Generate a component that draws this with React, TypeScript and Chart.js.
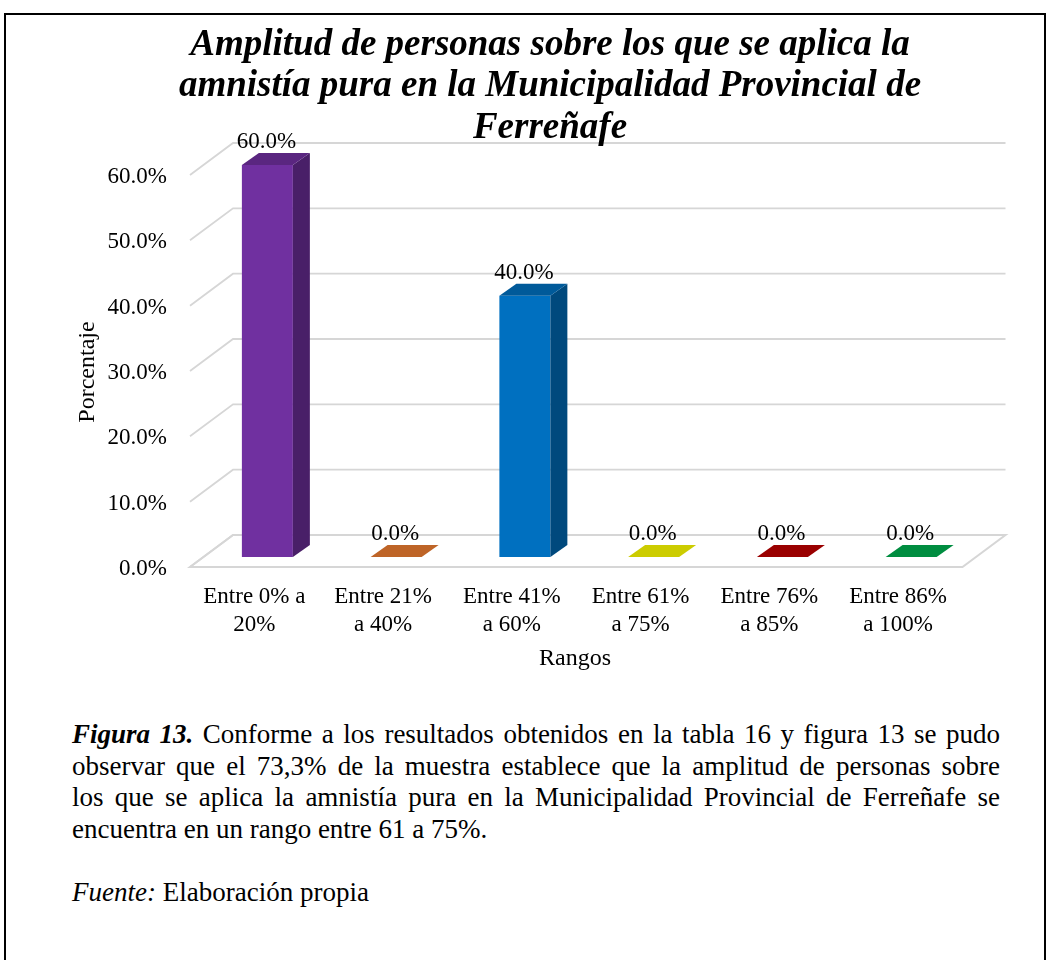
import React, { useEffect, useRef } from 'react';
import { Chart, registerables } from 'chart.js';

Chart.register(...registerables);

const FONT = '"Liberation Serif", "Times New Roman", serif';

const TITLE_LINES = [
  'Amplitud de personas sobre los que se aplica la',
  'amnistía pura en la Municipalidad Provincial de',
  'Ferreñafe',
];
const CATEGORIES = [
  ['Entre 0% a', '20%'],
  ['Entre 21%', 'a 40%'],
  ['Entre 41%', 'a 60%'],
  ['Entre 61%', 'a 75%'],
  ['Entre 76%', 'a 85%'],
  ['Entre 86%', 'a 100%'],
];
const VALUES = [60, 0, 40, 0, 0, 0];
const Y_MIN = 0;
const Y_MAX = 60;
const Y_STEP = 10;
const Y_TITLE = 'Porcentaje';
const X_TITLE = 'Rangos';
const BASE_COLORS = ['#7030A0', '#ED7D31', '#0070C0', '#FFFF00', '#C00000', '#00B050'];

const CAPTION_LINES = [
  'Conforme a los resultados obtenidos en la tabla 16 y figura 13 se pudo',
  'observar que el 73,3% de la muestra establece que la amplitud de personas sobre',
  'los que se aplica la amnistía pura en la Municipalidad Provincial de Ferreñafe se',
  'encuentra en un rango entre 61 a 75%.',
];
const CAPTION_LEAD = 'Figura 13.';
const SOURCE_LEAD = 'Fuente:';
const SOURCE_TEXT = 'Elaboración propia';

const GRID = '#D6D6D6';
// 3D geometry offsets (relative to the bar front plane)
const BAR_DX = 17;
const BAR_DY = 12;
const FRONT_DX = -13;
const FRONT_DY = 10;
const BACK_DX = 30;
const BACK_DY = -22;

function shade(hex: string, f: number) {
  const n = parseInt(hex.slice(1), 16);
  const r = Math.round(((n >> 16) & 255) * f);
  const g = Math.round(((n >> 8) & 255) * f);
  const b = Math.round((n & 255) * f);
  return `rgb(${r},${g},${b})`;
}

const threeD = {
  id: 'threeD',
  beforeDatasetsDraw(chart: any) {
    const { ctx, chartArea, scales } = chart;
    const y = scales.y;
    const l = chartArea.left;
    const r = chartArea.right;
    const y0 = y.getPixelForValue(0);
    ctx.save();
    ctx.strokeStyle = GRID;
    // floor
    ctx.beginPath();
    ctx.moveTo(l + FRONT_DX, y0 + FRONT_DY);
    ctx.lineTo(r + FRONT_DX, y0 + FRONT_DY);
    ctx.lineTo(r + BACK_DX, y0 + BACK_DY);
    ctx.lineTo(l + BACK_DX, y0 + BACK_DY);
    ctx.closePath();
    ctx.fillStyle = '#fff';
    ctx.fill();
    ctx.lineWidth = 2;
    ctx.stroke();
    // side wall diagonals + back wall gridlines
    ctx.lineWidth = 1.8;
    y.ticks.forEach((t: any) => {
      const py = y.getPixelForValue(t.value);
      ctx.beginPath();
      ctx.moveTo(l + FRONT_DX, py + FRONT_DY);
      ctx.lineTo(l + BACK_DX, py + BACK_DY);
      if (t.value !== 0) ctx.lineTo(r + BACK_DX, py + BACK_DY);
      ctx.stroke();
    });
    ctx.restore();
  },
  afterDatasetsDraw(chart: any) {
    const { ctx } = chart;
    const meta = chart.getDatasetMeta(0);
    ctx.save();
    meta.data.forEach((bar: any, i: number) => {
      const p = bar.getProps(['x', 'y', 'base', 'width'], true);
      const x0 = p.x - p.width / 2;
      const x1 = p.x + p.width / 2;
      const top = p.y;
      const base = p.base;
      const col = BASE_COLORS[i];
      // side face
      if (top < base - 0.5) {
        ctx.fillStyle = shade(col, 0.65);
        ctx.beginPath();
        ctx.moveTo(x1, top);
        ctx.lineTo(x1 + BAR_DX, top - BAR_DY);
        ctx.lineTo(x1 + BAR_DX, base - BAR_DY);
        ctx.lineTo(x1, base);
        ctx.closePath();
        ctx.fill();
      }
      // top face
      ctx.fillStyle = shade(col, 0.8);
      ctx.beginPath();
      ctx.moveTo(x0, top);
      ctx.lineTo(x1, top);
      ctx.lineTo(x1 + BAR_DX, top - BAR_DY);
      ctx.lineTo(x0 + BAR_DX, top - BAR_DY);
      ctx.closePath();
      ctx.fill();
      // value label
      ctx.fillStyle = '#000';
      ctx.font = `23px ${FONT}`;
      ctx.textAlign = 'center';
      ctx.textBaseline = 'middle';
      ctx.fillText(VALUES[i].toFixed(1) + '%', p.x - 1, top - BAR_DY - 11);
    });
    ctx.restore();
  },
  afterDraw(chart: any) {
    const { ctx } = chart;
    ctx.save();
    ctx.fillStyle = '#000';
    ctx.textAlign = 'center';
    ctx.textBaseline = 'middle';
    ctx.font = `italic bold 37px ${FONT}`;
    const titleY = [45, 86, 128];
    TITLE_LINES.forEach((line, i) => ctx.fillText(line, 550, titleY[i]));
    ctx.font = `24px ${FONT}`;
    ctx.fillText(X_TITLE, 575, 659);
    ctx.translate(88, 372);
    ctx.rotate(-Math.PI / 2);
    ctx.fillText(Y_TITLE, 0, 0);
    ctx.restore();
  },
};

export default function App() {
  const ref = useRef<HTMLCanvasElement>(null);
  useEffect(() => {
    const chart = new Chart(ref.current as HTMLCanvasElement, {
      type: 'bar',
      data: {
        labels: CATEGORIES,
        datasets: [
          {
            data: VALUES,
            backgroundColor: BASE_COLORS,
            borderWidth: 0,
            barPercentage: 0.396,
            categoryPercentage: 1,
          },
        ],
      },
      options: {
        animation: false,
        responsive: false,
        devicePixelRatio: 1,
        layout: { padding: { left: 40, top: 165, right: 72.5, bottom: 23 } },
        plugins: {
          legend: { display: false },
          title: { display: false },
          tooltip: { enabled: false },
        },
        scales: {
          x: {
            grid: { display: false, drawTicks: false },
            border: { display: false },
            ticks: {
              font: { family: FONT, size: 23, lineHeight: 1.2 },
              color: '#000',
              padding: 26.5,
              labelOffset: -13,
              maxRotation: 0,
              minRotation: 0,
              autoSkip: false,
            },
            afterFit: (s: any) => {
              s.height = 120;
            },
          },
          y: {
            min: Y_MIN,
            max: Y_MAX,
            grid: { display: false, drawTicks: false },
            border: { display: false },
            ticks: {
              stepSize: Y_STEP,
              callback: (v: any) => Number(v).toFixed(1) + '%',
              font: { family: FONT, size: 23 },
              color: '#000',
              padding: 36,
              labelOffset: 12,
            },
            afterFit: (s: any) => {
              s.width = 163;
            },
          },
        },
      } as any,
      plugins: [threeD],
    });
    return () => chart.destroy();
  }, []);

  const lineStyle: React.CSSProperties = {
    whiteSpace: 'nowrap',
    textAlign: 'justify',
    textAlignLast: 'justify',
    height: '31.7px',
  };

  return (
    <div
      style={{
        position: 'fixed',
        left: 0,
        top: 0,
        width: 1048,
        height: 960,
        background: '#fff',
        overflow: 'hidden',
      }}
    >
      <div
        style={{
          position: 'absolute',
          left: 4,
          top: 13,
          width: 1042,
          height: 1000,
          border: '2px solid #000',
          boxSizing: 'border-box',
        }}
      />
      <canvas
        ref={ref}
        width={1048}
        height={700}
        style={{ position: 'absolute', left: 0, top: 0, width: 1048, height: 700 }}
      />
      <div
        style={{
          position: 'absolute',
          left: 72,
          top: 719,
          width: 928,
          fontFamily: FONT,
          fontSize: 27,
          lineHeight: '31.7px',
          color: '#000',
        }}
      >
        {CAPTION_LINES.map((line, i) => (
          <div
            key={i}
            style={i < CAPTION_LINES.length - 1 ? lineStyle : { whiteSpace: 'nowrap', height: '31.7px' }}
          >
            {i === 0 ? (
              <>
                <b>
                  <i>{CAPTION_LEAD}</i>
                </b>{' '}
                {line}
              </>
            ) : (
              line
            )}
          </div>
        ))}
      </div>
      <div
        style={{
          position: 'absolute',
          left: 72,
          top: 877,
          fontFamily: FONT,
          fontSize: 27,
          lineHeight: '31.7px',
          color: '#000',
          whiteSpace: 'nowrap',
        }}
      >
        <i>{SOURCE_LEAD}</i> {SOURCE_TEXT}
      </div>
    </div>
  );
}
